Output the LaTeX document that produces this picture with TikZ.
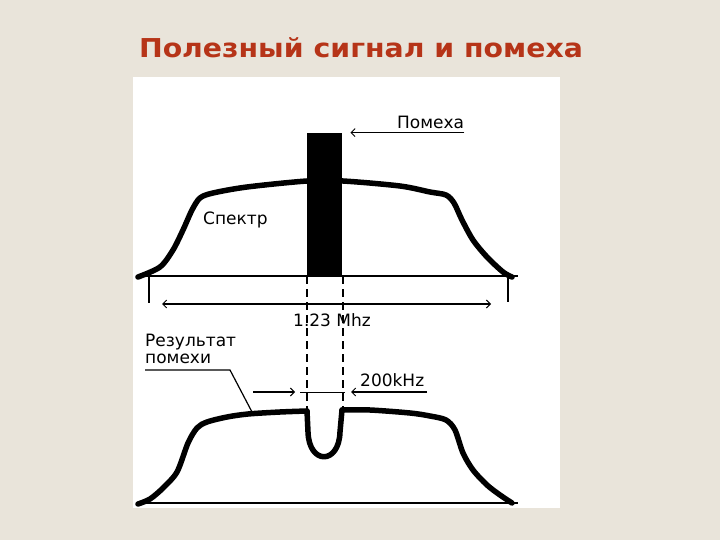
\documentclass[tikz,border=0pt]{standalone}
\usepackage{fontspec}
\setmainfont{DejaVu Sans}
\usetikzlibrary{arrows.meta}
\definecolor{slidebg}{RGB}{233,228,218}
\definecolor{titlered}{RGB}{182,52,24}

\begin{document}
\begin{tikzpicture}[
  x=1pt, y=-1pt,
  titletext/.style={font=\fontsize{26}{30}\selectfont\bfseries, text=titlered, inner sep=0pt, xscale=1.09},
  lbl/.style={font=\fontsize{17}{17}\selectfont, inner sep=0pt},
  spec/.style={line width=5.5pt, line join=round, line cap=round},
  axisline/.style={line width=1.8pt},
  leader/.style={line width=1.2pt},
  guide/.style={line width=1.4pt, dash pattern=on 8pt off 5pt},
  chev/.style={-{Straight Barb[length=4pt, width=8pt, line width=1pt, sep=3pt]}, line width=1.4pt},
  dimarr/.style={{Straight Barb[length=4pt, width=8pt, line width=1pt, sep=4pt]}-{Straight Barb[length=4pt, width=8pt, line width=1pt, sep=4pt]}, line width=1.6pt},
]

% Baselines of both spectra
\def\ytop{276}
\def\ybot{503}

% ============================================================
% Slide background and title
% ============================================================
\fill[slidebg] (0,0) rectangle (720,540);
\fill[white] (133,77) rectangle (560,508);
\node[titletext, anchor=base] (title) at (361,58) {Полезный сигнал и помеха};

% ============================================================
% Upper spectrum with the interference
% ============================================================
\draw[axisline] (137,\ytop) -- (518,\ytop);
\draw[spec] plot[smooth, tension=0.5] coordinates {
  (138,277) (160,267) (173,250) (183,230) (192,210) (200,198) (213,193)
  (247,187) (307,181) (343,181) (400,186) (430,192) (446,195) (454,203)
  (462,220) (473,240) (487,257) (503,272) (512,277)};
\node[fill=black, inner sep=0pt, minimum width=35pt, minimum height=143pt,
  anchor=south west] (pomeha) at (307,\ytop) {};

\node[lbl, anchor=west] (pomehalbl) at (397,122) {Помеха};
\draw[chev] (pomeha.north east -| pomehalbl.east) -- ([xshift=5pt]pomeha.north east);

\node[lbl, anchor=west] (spektr) at (203,220) {Спектр};

% Band width 1.23 Mhz
\draw[leader] (149,\ytop) -- (149,303);
\draw[leader] (508,\ytop) -- (508,302);
\coordinate (bandl) at (158,304);
\coordinate (bandr) at (495,304);
\draw[dimarr] (bandl) -- (bandr);
\node[lbl] (band) at (332,320) {1.23 Mhz};

% Guides from the interference down to the notch
\draw[guide] (307,\ytop) -- (307,411);
\draw[guide] (343,\ytop) -- (343,409);

% ============================================================
% Lower spectrum: result of the interference
% ============================================================
\draw[axisline] (137,\ybot) -- (518,\ybot);
\draw[spec] plot[smooth, tension=0.5] coordinates {
  (138,504) (150,499) (163,488) (177,472) (188,443) (197,428) (207,422)
  (227,417) (248,414) (280,412) (307,411)};
\draw[spec] (307,411) -- (308,432) .. controls (309,465) and (339,465) .. (340,432) -- (342,410);
\draw[spec] plot[smooth, tension=0.5] coordinates {
  (342,410) (370,410) (410,413) (430,416) (446,420) (455,430) (463,453)
  (473,470) (487,485) (500,495) (512,503)};

\node[lbl, align=left, anchor=north west] (result) at (145,334) {Результат\\помехи};
\coordinate (resknee) at (230,370);
\coordinate (restip) at (252,412);
\draw[leader] (result.west |- resknee) -- (resknee) -- (restip);

% Notch width 200kHz
\node[lbl, anchor=base west] (khz) at (360,386) {200kHz};
\coordinate (khzl) at (253,392);
\coordinate (khzr) at (427,392);
\draw[chev] (khzl) -- (298,392);
\draw[chev] (khzr) -- (348,392);
\draw[line width=1pt] (300,392) -- (345,392);

\end{tikzpicture}
\end{document}
